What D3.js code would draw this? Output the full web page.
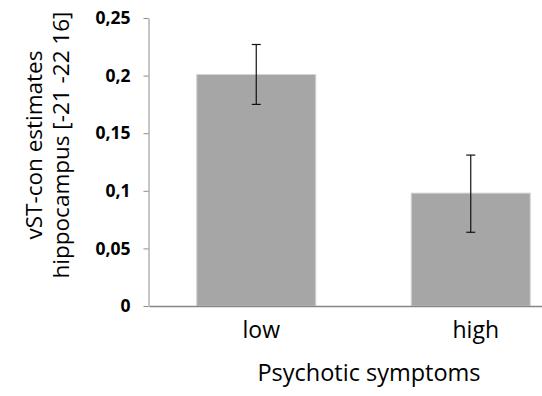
<!DOCTYPE html>
<html>
<head>
<meta charset="utf-8">
<script src="https://cdn.jsdelivr.net/npm/d3@7"></script>
<style>
  body { margin: 0; background: #fff; }
  svg text { font-family: "Open Sans", sans-serif; }
</style>
</head>
<body>
<div id="chart"></div>
<script>
var categories = ["low", "high"];
var means = [0.201, 0.098];
var errUpper = [0.227, 0.131];
var errLower = [0.175, 0.064];
var yTicks = [0, 0.05, 0.1, 0.15, 0.2, 0.25];
var yTickLabels = ["0", "0,05", "0,1", "0,15", "0,2", "0,25"];

var width = 542, height = 396;

var svg = d3.select("#chart")
    .append("svg")
    .attr("width", width)
    .attr("height", height);

var x = d3.scaleBand()
    .domain(categories)
    .range([149, 578])
    .paddingInner(0.445)
    .paddingOuter(0.2225);

var y = d3.scaleLinear()
    .domain([0, 0.25])
    .range([306, 18]);

var data = categories.map(function (c, i) {
    return { cat: c, mean: means[i], hi: errUpper[i], lo: errLower[i] };
});

// bars
svg.selectAll("rect.bar")
    .data(data)
    .join("rect")
    .attr("class", "bar")
    .attr("x", d => x(d.cat))
    .attr("y", d => y(d.mean))
    .attr("width", x.bandwidth())
    .attr("height", d => y(0) - y(d.mean))
    .attr("fill", "#a6a6a6")
    .attr("stroke", "#d4d4d4")
    .attr("stroke-width", 1);

// y axis
var yAxis = svg.append("g")
    .attr("transform", "translate(148.5,0)")
    .call(d3.axisLeft(y)
        .tickValues(yTicks)
        .tickFormat((d, i) => yTickLabels[i])
        .tickSize(5)
        .tickSizeOuter(0));
yAxis.select(".domain").attr("stroke", "#8c8c8c");
yAxis.selectAll(".tick line").attr("stroke", "#8c8c8c");
yAxis.selectAll(".tick text")
    .attr("x", -18)
    .attr("font-size", 17.5)
    .attr("font-weight", "bold")
    .attr("fill", "#000")
    .style("font-family", "'Open Sans', sans-serif");

// x axis
var xAxis = svg.append("g")
    .attr("transform", "translate(0," + y(0) + ")")
    .call(d3.axisBottom(x).tickSize(0).tickSizeOuter(0));
xAxis.select(".domain").attr("stroke", "#868686").attr("stroke-width", 1.6);
xAxis.selectAll(".tick text")
    .attr("y", 32)
    .attr("dy", 0)
    .attr("dx", 5)
    .attr("font-size", 23)
    .attr("fill", "#000")
    .style("font-family", "'Open Sans', sans-serif");

// error bars
var err = svg.append("g").attr("stroke", "#111").attr("stroke-width", 1.2);
err.selectAll("line.v")
    .data(data)
    .join("line")
    .attr("x1", d => x(d.cat) + x.bandwidth() / 2)
    .attr("x2", d => x(d.cat) + x.bandwidth() / 2)
    .attr("y1", d => y(d.hi))
    .attr("y2", d => y(d.lo));
err.selectAll("line.top")
    .data(data)
    .join("line")
    .attr("x1", d => x(d.cat) + x.bandwidth() / 2 - 4.5)
    .attr("x2", d => x(d.cat) + x.bandwidth() / 2 + 4.5)
    .attr("y1", d => y(d.hi))
    .attr("y2", d => y(d.hi));
err.selectAll("line.bot")
    .data(data)
    .join("line")
    .attr("x1", d => x(d.cat) + x.bandwidth() / 2 - 4.5)
    .attr("x2", d => x(d.cat) + x.bandwidth() / 2 + 4.5)
    .attr("y1", d => y(d.lo))
    .attr("y2", d => y(d.lo));

// axis titles
svg.append("text")
    .attr("x", 369)
    .attr("y", 381)
    .attr("text-anchor", "middle")
    .attr("font-size", 23.5)
    .text("Psychotic symptoms");

var yTitle = svg.append("text")
    .attr("transform", "translate(42,145) rotate(-90)")
    .attr("text-anchor", "middle")
    .attr("font-size", 22.5);
yTitle.append("tspan").attr("x", 0).attr("dy", 0).text("vST-con estimates");
yTitle.append("tspan").attr("x", 0).attr("dy", 27).text("hippocampus [-21 -22 16]");
</script>
</body>
</html>
